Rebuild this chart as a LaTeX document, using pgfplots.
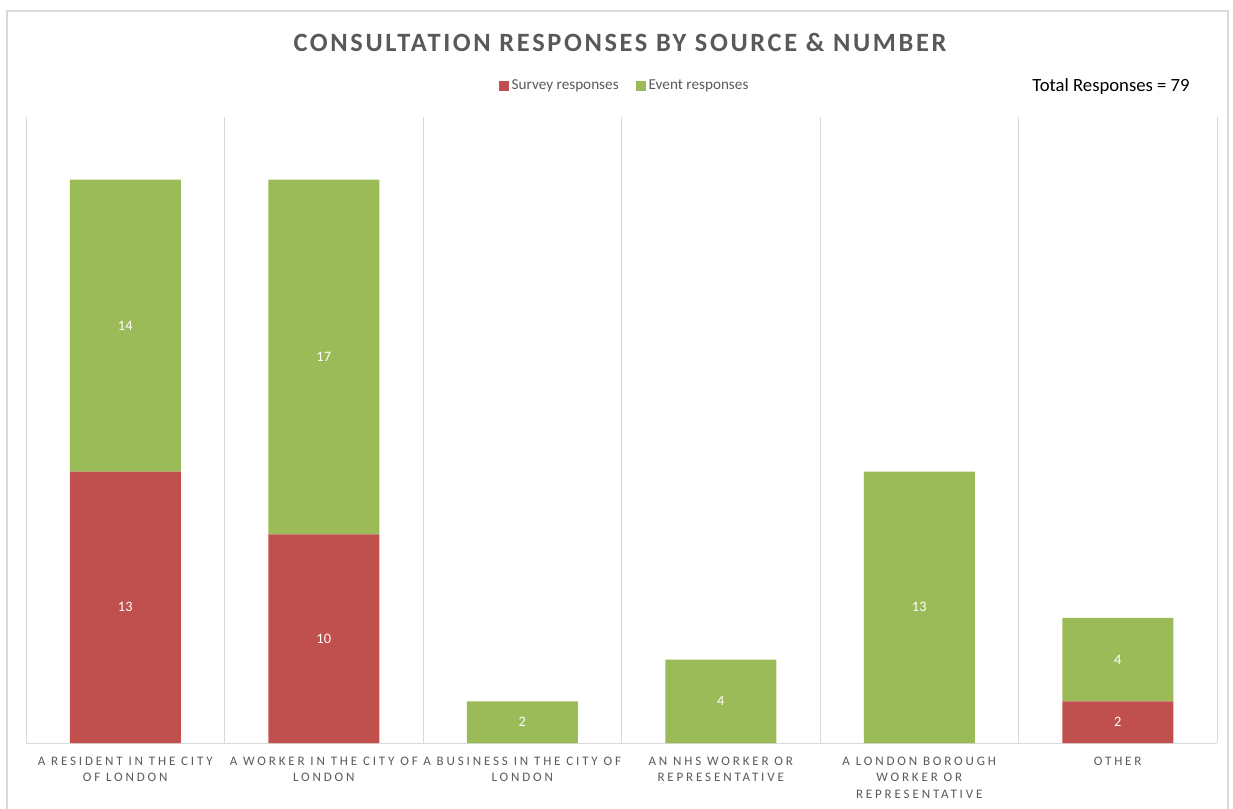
\documentclass[border=0pt]{standalone}
\usepackage{fontspec}
\setmainfont{Carlito}
\newfontfamily\titlefont[LetterSpace=10]{Carlito}
\newfontfamily\tickfont[LetterSpace=22]{Carlito}
\usepackage{pgfplots}
\pgfplotsset{compat=1.18}
\definecolor{sred}{HTML}{C0504D}
\definecolor{egreen}{HTML}{9BBB59}
\definecolor{txtgrey}{HTML}{595959}
\definecolor{gridgrey}{HTML}{D9D9D9}
\begin{document}
\begin{tikzpicture}
\path[use as bounding box] (0,0) rectangle (924.75pt,606pt);
\draw[gridgrey, line width=1.5pt] (5.25pt,-2pt) -- (5.25pt,597.75pt) -- (921pt,597.75pt) -- (921pt,-2pt);
\begin{axis}[
  at={(19.5pt,48.75pt)}, anchor=south west,
  scale only axis, width=893.25pt, height=469.5pt,
  ybar stacked, bar width=83.25pt,
  xmin=-0.5, xmax=5.5, ymin=0, ymax=30,
  axis x line=bottom, axis y line=none,
  x axis line style={draw=gridgrey, line width=0.75pt, -},
  xtick={0,1,2,3,4,5},
  minor xtick={-0.5,0.5,1.5,2.5,3.5,4.5,5.5},
  minor x grid style={draw=gridgrey, line width=0.75pt},
  xminorgrids=true,
  ytick=\empty,
  major tick length=0pt, minor tick length=0pt,
  xticklabels={{A RESIDENT IN THE CITY\\OF LONDON},{A WORKER IN THE CITY OF\\LONDON},{A BUSINESS IN THE CITY OF\\LONDON},{AN NHS WORKER OR\\REPRESENTATIVE},{A LONDON BOROUGH\\WORKER OR\\REPRESENTATIVE},{OTHER}},
  xticklabel style={align=center, font=\tickfont\fontsize{9.75pt}{12.3pt}\selectfont, text=txtgrey, anchor=north, yshift=-7pt},
  visualization depends on={rawy \as \rawy},
  nodes near coords={\pgfmathtruncatemacro\v{\rawy}\ifnum\v>0 \v\fi},
  every node near coord/.append style={anchor=center, text=white, font=\fontsize{10.8pt}{13pt}\selectfont},
  legend columns=2,
  legend style={at={(axis description cs:0.503,1.05)}, anchor=center, draw=none, fill=none, font=\fontsize{11.4pt}{13pt}\selectfont, text=txtgrey,
    /tikz/every even column/.append style={column sep=11pt}},
  legend image code/.code={\fill[#1] (0pt,-3.75pt) rectangle (7.5pt,3.75pt);},
]
\addplot[fill=sred, draw=none] coordinates {(0,13) (1,10) (2,0) (3,0) (4,0) (5,2)};
\addlegendentry{Survey responses}
\addplot[fill=egreen, draw=none] coordinates {(0,14) (1,17) (2,2) (3,4) (4,13) (5,4)};
\addlegendentry{Event responses}
\end{axis}
\node[font=\titlefont\bfseries\fontsize{19.8pt}{24pt}\selectfont, text=txtgrey] at (465pt,574.5pt) {CONSULTATION RESPONSES BY SOURCE \& NUMBER};
\node[font=\fontsize{14pt}{16pt}\selectfont, text=black] at (833.25pt,541pt) {Total Responses = 79};
\end{tikzpicture}
\end{document}
